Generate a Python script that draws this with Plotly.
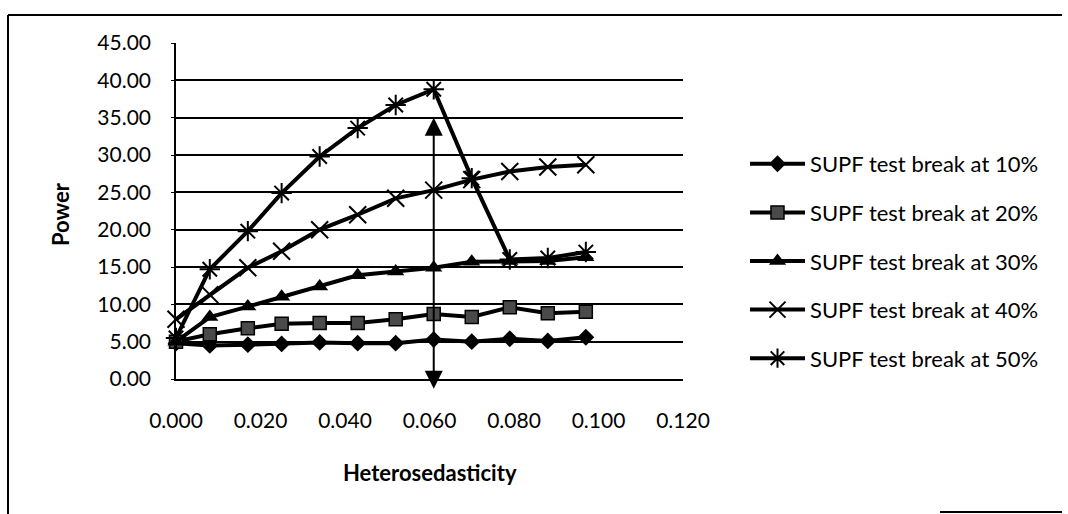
import plotly.graph_objects as go

# ---- data ----
heterosedasticity = [0.000, 0.008, 0.017, 0.025, 0.034, 0.043, 0.052, 0.061, 0.070, 0.079, 0.088, 0.097]
series_names = ["SUPF test break at 10%", "SUPF test break at 20%", "SUPF test break at 30%",
                "SUPF test break at 40%", "SUPF test break at 50%"]
power_10 = [4.8, 4.5, 4.6, 4.7, 4.9, 4.8, 4.8, 5.3, 5.0, 5.4, 5.1, 5.6]
power_20 = [5.0, 6.0, 6.8, 7.4, 7.5, 7.5, 8.0, 8.7, 8.3, 9.6, 8.8, 9.0]
power_30 = [5.0, 8.3, 9.7, 11.0, 12.4, 13.9, 14.4, 14.9, 15.7, 15.8, 15.8, 16.3]
power_40 = [8.0, 11.3, 14.9, 17.1, 20.0, 22.0, 24.2, 25.3, 26.7, 27.8, 28.4, 28.7]
power_50 = [5.5, 14.7, 19.8, 24.9, 29.8, 33.6, 36.7, 38.8, 26.9, 16.0, 16.2, 17.0]
x_ticks = [0.000, 0.020, 0.040, 0.060, 0.080, 0.100, 0.120]
y_ticks = [0, 5, 10, 15, 20, 25, 30, 35, 40, 45]
arrow_x = heterosedasticity[7]
arrow_top = 35.0
arrow_bottom = -1.5

FONT = "Lato"
W, H = 1068, 514
L, R, T, B = 176, 683, 43, 379   # plot area in pixels

styles = [
    dict(symbol="diamond", size=13, color="black", line=dict(width=0)),
    dict(symbol="square", size=13, color="#4a4a4a", line=dict(width=1.5, color="black")),
    dict(symbol="triangle-up", size=15, color="black", line=dict(width=0)),
    dict(symbol="x-thin", size=17, color="black", line=dict(width=2, color="black")),
    dict(symbol="asterisk", size=17, color="black", line=dict(width=2, color="black")),
]
values = [power_10, power_20, power_30, power_40, power_50]

fig = go.Figure()
for i, (name, vals, st) in enumerate(zip(series_names, values, styles)):
    fig.add_trace(go.Scatter(
        x=heterosedasticity, y=vals, name=name, mode="lines+markers",
        line=dict(color="black", width=4), marker=st, cliponaxis=False,
        legendgroup=f"g{i}",
    ))

def px_x(p):
    return (p - L) / (R - L)

def px_y(p):
    return (B - p) / (B - T)

fig.add_annotation(
    x=arrow_x, y=arrow_top, ax=arrow_x, ay=arrow_bottom, xref="x", yref="y",
    axref="x", ayref="y", text="", showarrow=True, arrowhead=2, startarrowhead=2,
    arrowside="end+start", arrowwidth=2, arrowsize=1.8, startarrowsize=1.8, arrowcolor="black",
)
fig.add_annotation(text="<b>Power</b>", textangle=-90, x=px_x(60), y=px_y(214),
                   xref="paper", yref="paper", showarrow=False,
                   font=dict(family=FONT, size=22, color="black"), xanchor="center", yanchor="middle")
fig.add_annotation(text="<b>Heterosedasticity</b>", x=px_x(430), y=px_y(472),
                   xref="paper", yref="paper", showarrow=False,
                   font=dict(family=FONT, size=22, color="black"), xanchor="center", yanchor="middle")

# chart frame
frame = dict(color="black", width=2)
fig.add_shape(type="line", xref="paper", yref="paper", x0=px_x(8), x1=px_x(1062), y0=px_y(15), y1=px_y(15), line=frame)
fig.add_shape(type="line", xref="paper", yref="paper", x0=px_x(8), x1=px_x(8), y0=px_y(15), y1=px_y(514), line=frame)
fig.add_shape(type="line", xref="paper", yref="paper", x0=px_x(940), x1=px_x(1062), y0=px_y(512), y1=px_y(512), line=frame)

fig.update_layout(
    width=W, height=H,
    margin=dict(l=L, r=W - R, t=T, b=H - B, autoexpand=False),
    paper_bgcolor="white", plot_bgcolor="white",
    font=dict(family=FONT, size=21, color="black"),
    showlegend=True,
    legend=dict(x=px_x(745), xanchor="left", y=px_y(261), yanchor="middle",
                font=dict(family=FONT, size=22, color="black"), itemwidth=55,
                tracegroupgap=17, traceorder="grouped", bgcolor="rgba(0,0,0,0)"),
    xaxis=dict(range=[0, 0.12], tickvals=x_ticks, tickformat=".3f", showgrid=False,
               showline=True, linecolor="black", linewidth=1.5, zeroline=False,
               ticks="", ticklen=0, ticklabelstandoff=22,
               tickfont=dict(family=FONT, size=21, color="black")),
    yaxis=dict(range=[0, 45], tickvals=y_ticks, tickformat=".2f", showgrid=True,
               gridcolor="black", gridwidth=1.5, showline=True, linecolor="black", linewidth=1.5,
               zeroline=False, ticks="outside", ticklen=3, tickcolor="black", ticklabelstandoff=16,
               tickfont=dict(family=FONT, size=21, color="black")),
)

fig.write_html("out.html")
